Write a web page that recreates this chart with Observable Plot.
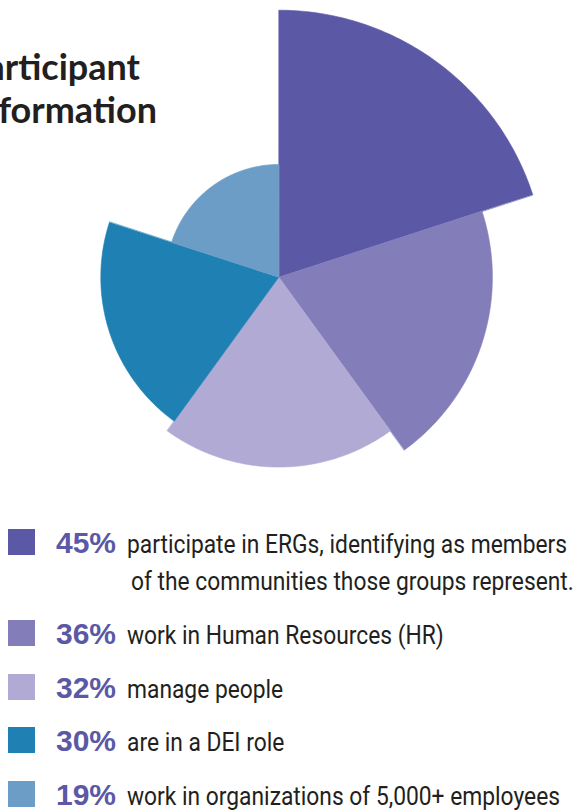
<!DOCTYPE html>
<html>
<head>
<meta charset="utf-8">
<script src="https://cdn.jsdelivr.net/npm/d3@7"></script>
<script src="https://cdn.jsdelivr.net/npm/@observablehq/plot@0.6"></script>
<style>
  html, body { margin: 0; padding: 0; background: #ffffff; }
  #wrap { position: relative; width: 577px; height: 810px; overflow: hidden; }
  #chart { position: absolute; left: 0; top: 0; }
  #title { position: absolute; left: 0; top: 0; }
  #legend { position: absolute; left: 0; top: 500px; }
</style>
</head>
<body>
<div id="wrap">
  <div id="chart"></div>
  <svg id="title" width="577" height="160"></svg>
  <svg id="legend" width="577" height="310"></svg>
</div>
<script>
// ---- data ----
const labels = ["ERGs", "HR", "Managers", "DEI role", "Large orgs"];
const values = [45, 36, 32, 30, 19];
const percentLabels = ["45%", "36%", "32%", "30%", "19%"];
const descriptions = [
  ["participate in ERGs, identifying as members", "of the communities those groups represent."],
  ["work in Human Resources (HR)"],
  ["manage people"],
  ["are in a DEI role"],
  ["work in organizations of 5,000+ employees"]
];
const colors = ["#5b58a6", "#837dba", "#b0aad4", "#1f80b4", "#6b9dc6"];
const titleLines = ["Participant", "Information"];

// ---- layout ----
const W = 577, H = 500;
const cx = 278.3, cy = 276.7;          // centre of the rose, px
const k = 267 / 45;                    // px per percentage point

// wedge outlines built from the values (equal angles, radius ∝ value)
const n = values.length;
const steps = 80;
const pts = [];
values.forEach((v, i) => {
  const a0 = (i / n) * 2 * Math.PI, a1 = ((i + 1) / n) * 2 * Math.PI;
  pts.push({label: labels[i], x: 0, y: 0});
  for (let s = 0; s <= steps; s++) {
    const a = a0 + (a1 - a0) * s / steps;
    pts.push({label: labels[i], x: v * Math.sin(a), y: v * Math.cos(a)});
  }
});

const plot = Plot.plot({
  width: W,
  height: H,
  margin: 0,
  x: {domain: [-cx / k, (W - cx) / k], axis: null},
  y: {domain: [-(H - cy) / k, cy / k], axis: null},
  color: {domain: labels, range: colors},
  marks: [
    Plot.line(pts, {x: "x", y: "y", z: "label", fill: "label", stroke: "label", strokeWidth: 0.6, curve: "linear-closed"})
  ]
});
document.getElementById("chart").appendChild(plot);

// ---- title (partly off the left edge, as in the source) ----
const tsvg = d3.select("#title");
const titleRight = [140, 157], titleBase = [80, 123];
tsvg.selectAll("text").data(titleLines).join("text")
  .attr("x", (d, i) => titleRight[i])
  .attr("y", (d, i) => titleBase[i])
  .attr("text-anchor", "end")
  .attr("font-family", "Lato, 'Open Sans', sans-serif")
  .attr("font-weight", 700)
  .attr("font-size", 36)
  .attr("fill", "#231f20")
  .text(d => d);

// ---- legend ----
const lsvg = d3.select("#legend");
const rowTop = [29, 120, 174, 227, 281];   // relative to legend top (500)
const rows = lsvg.selectAll("g").data(values).join("g")
  .attr("transform", (d, i) => `translate(0,${rowTop[i]})`);
rows.append("rect")
  .attr("x", 8).attr("y", 0).attr("width", 27).attr("height", 26)
  .attr("fill", (d, i) => colors[i]);
rows.append("text")
  .attr("x", 56).attr("y", 24)
  .attr("font-family", "'Liberation Sans', Arial, sans-serif")
  .attr("font-weight", 700)
  .attr("font-size", 30)
  .attr("fill", "#5b58a6")
  .text((d, i) => percentLabels[i]);
rows.each(function (d, i) {
  const g = d3.select(this);
  descriptions[i].forEach((line, j) => {
    g.append("text")
      .attr("transform", `translate(${j === 0 ? 127 : 131},${24 + j * 37}) scale(0.877,1)`)
      .attr("font-family", "Roboto, sans-serif")
      .attr("font-size", 26)
      .attr("fill", "#231f20")
      .text(line);
  });
});
</script>
</body>
</html>
